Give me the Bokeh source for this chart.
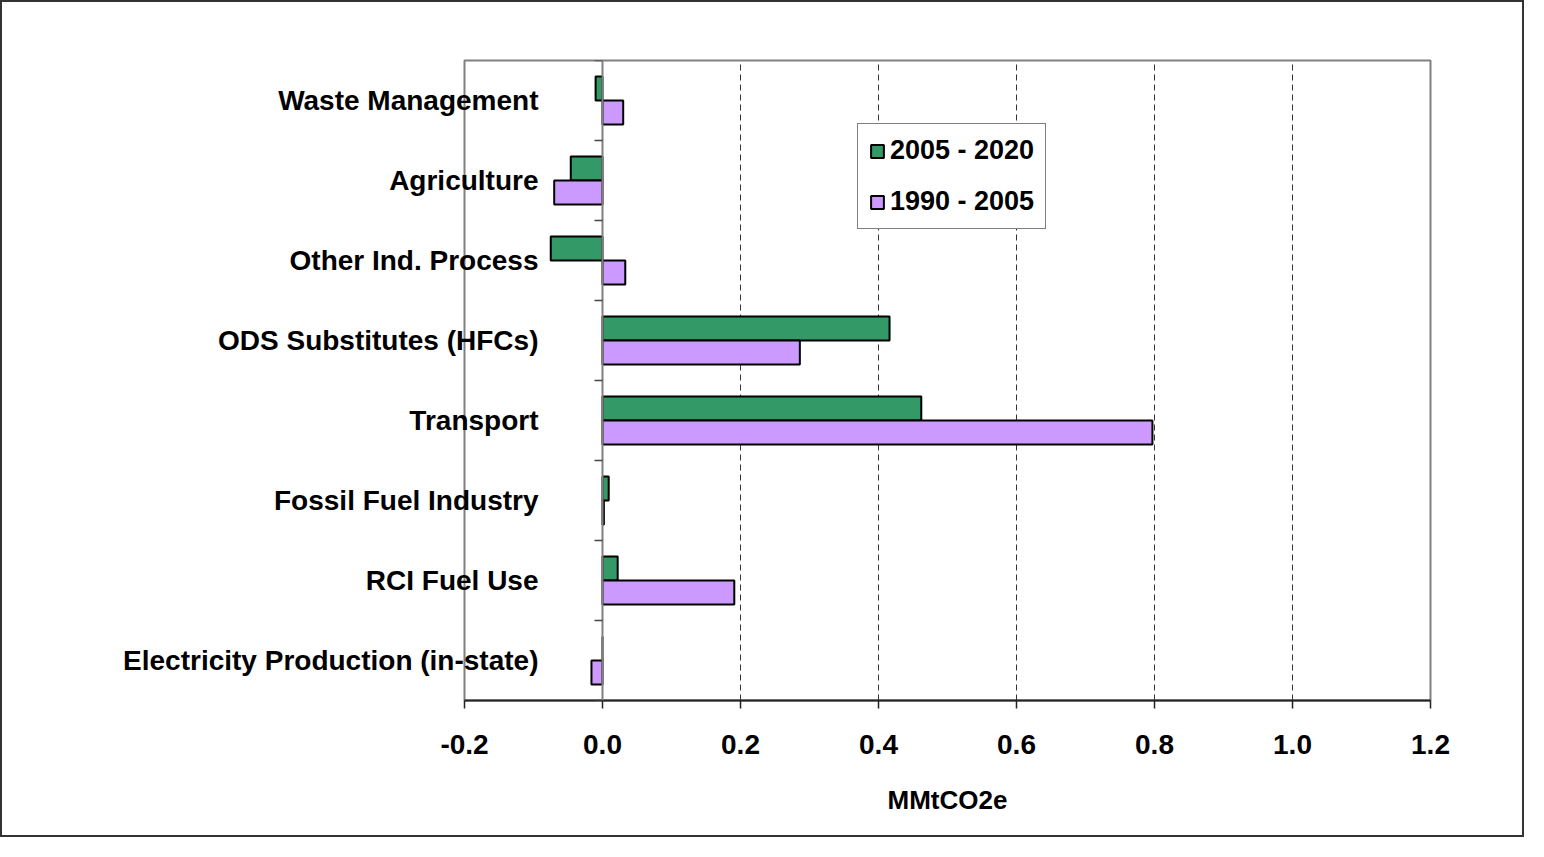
import numpy as np
from bokeh.plotting import figure
from bokeh.models import (Range1d, FixedTicker, NumeralTickFormatter, Legend, LegendItem,
                          ColumnDataSource, LinearAxis)
from bokeh.embed import file_html
from bokeh.resources import INLINE

# ---- data (bottom to top) ----
categories = ["Electricity Production (in-state)", "RCI Fuel Use", "Fossil Fuel Industry",
              "Transport", "ODS Substitutes (HFCs)", "Other Ind. Process", "Agriculture",
              "Waste Management"]
series_2005_2020 = [0.0, 0.022, 0.009, 0.462, 0.416, -0.075, -0.046, -0.010]
series_1990_2005 = [-0.016, 0.191, 0.002, 0.797, 0.286, 0.033, -0.070, 0.030]
series_names = ["2005 - 2020", "1990 - 2005"]
x_ticks = [-0.2, 0.0, 0.2, 0.4, 0.6, 0.8, 1.0, 1.2]
x_title = "MMtCO2e"

GREEN = "#339966"
PURPLE = "#CC99FF"
FONT = "Liberation Sans"

idx = np.arange(len(categories))
centers = idx + 0.5
bar_h = 0.3

src = ColumnDataSource(dict(
    y_g=centers + bar_h / 2, y_p=centers - bar_h / 2,
    g=series_2005_2020, pu=series_1990_2005,
))

p = figure(width=1524, height=837, output_backend="svg", toolbar_location=None,
           x_range=Range1d(x_ticks[0], x_ticks[-1]), y_range=Range1d(0, len(categories)),
           min_border_left=462, min_border_right=96, min_border_top=58, min_border_bottom=139,
           background_fill_color="white", border_fill_color="white")
p.styles = {"border": "2px solid #333333"}

rg = p.hbar(y="y_g", right="g", left=0, height=bar_h, source=src,
            fill_color=GREEN, line_color="black", line_width=2)
rp = p.hbar(y="y_p", right="pu", left=0, height=bar_h, source=src,
            fill_color=PURPLE, line_color="black", line_width=2)

p.outline_line_color = "#808080"
p.outline_line_width = 2

# grid
p.ygrid.grid_line_color = None
p.xgrid.ticker = FixedTicker(ticks=x_ticks[2:-1])
p.xgrid.grid_line_color = "#333333"
p.xgrid.grid_line_dash = "6 4"
p.xgrid.grid_line_width = 1

# x axis
xa = p.xaxis[0]
xa.ticker = FixedTicker(ticks=x_ticks)
xa.formatter = NumeralTickFormatter(format="0.0")
xa.axis_line_color = "#222222"
xa.axis_line_width = 2
xa.major_tick_line_color = "#222222"
xa.major_tick_line_width = 1.5
xa.major_tick_out = 8
xa.major_tick_in = 0
xa.minor_tick_line_color = None
xa.major_label_text_font = FONT
xa.major_label_text_font_style = "bold"
xa.major_label_text_font_size = "28px"
xa.major_label_text_color = "black"
xa.major_label_standoff = 26
xa.axis_label = x_title
xa.axis_label_text_font = FONT
xa.axis_label_text_font_style = "bold"
xa.axis_label_text_font_size = "26px"
xa.axis_label_text_color = "black"
xa.axis_label_standoff = 28

# category labels: regular left axis, labels pulled into the frame up to the zero line
ya = p.yaxis[0]
ya.ticker = FixedTicker(ticks=list(centers))
ya.major_label_overrides = {float(c): n for c, n in zip(centers, categories)}
ya.axis_line_color = None
ya.major_tick_line_color = None
ya.minor_tick_line_color = None
ya.major_tick_out = 0
ya.major_tick_in = 0
ya.major_label_standoff = -74
ya.major_label_text_font = FONT
ya.major_label_text_font_style = "bold"
ya.major_label_text_font_size = "28px"
ya.major_label_text_color = "black"

# vertical axis line crossing at zero, with boundary ticks
za = LinearAxis(fixed_location=0,
                ticker=FixedTicker(ticks=[], minor_ticks=list(range(len(categories) + 1))))
za.axis_line_color = "#808080"
za.axis_line_width = 2
za.major_tick_line_color = None
za.major_label_text_color = None
za.minor_tick_out = 8
za.minor_tick_in = 0
za.minor_tick_line_color = "#444444"
za.minor_tick_line_width = 1.5
p.add_layout(za, "left")

legend = Legend(items=[LegendItem(label=series_names[0], renderers=[rg]),
                       LegendItem(label=series_names[1], renderers=[rp])],
                location=(393, 471), orientation="vertical")
legend.border_line_color = "black"
legend.border_line_width = 1
legend.background_fill_color = "white"
legend.background_fill_alpha = 1
legend.label_text_font = FONT
legend.label_text_font_style = "bold"
legend.label_text_font_size = "27px"
legend.label_text_color = "black"
legend.glyph_width = 16
legend.glyph_height = 16
legend.label_height = 28
legend.label_standoff = 5
legend.spacing = 20
legend.padding = 11
legend.margin = 0
p.add_layout(legend, "center")

open("out.html", "w").write(file_html(p, INLINE))
